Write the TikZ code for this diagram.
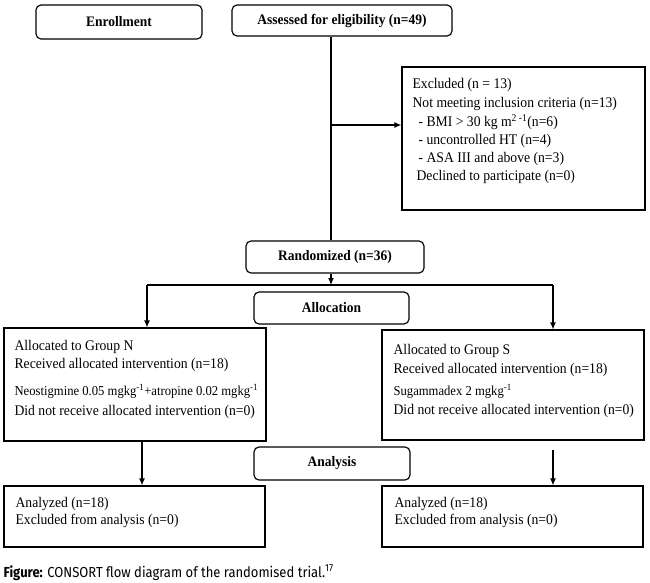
\documentclass[tikz,border=0pt]{standalone}
\usepackage{fontspec}
\usepackage{graphicx}
\setmainfont{Liberation Serif}[FakeStretch=0.93]
\newfontfamily\capfont{Fira Sans}
\usetikzlibrary{arrows.meta}
\begin{document}
\begin{tikzpicture}[x=1pt,y=-1pt,line width=1.15pt,
  hbox/.style={draw,rounded corners=5pt,inner sep=0pt,font=\fontsize{14.5}{16}\selectfont\bfseries},
  sbox/.style={draw,inner sep=0pt},
  txt/.style={anchor=west,inner sep=0pt,font=\fontsize{14.7}{16}\selectfont},
  stxt/.style={anchor=west,inner sep=0pt,font=\fontsize{13.6}{15}\selectfont},
  arr/.style={-{Latex[length=7pt,width=6pt]}}]
\useasboundingbox (0,0) rectangle (650,583);
% header boxes
\node[hbox,minimum width=166pt,minimum height=34pt] (enr) at (119,22) {Enrollment};
\node[hbox,minimum width=220pt,minimum height=31pt] (ass) at (342,20.5) {Assessed for eligibility (n=49)};
\node[hbox,minimum width=178pt,minimum height=32pt] (rand) at (335,257) {Randomized (n=36)};
\node[hbox,minimum width=155pt,minimum height=32pt] (alloc) at (331.5,308) {Allocation};
\node[hbox,minimum width=156pt,minimum height=33pt] (anal) at (332,463.5) {Analysis};
% square boxes
\node[sbox,minimum width=243pt,minimum height=143pt] (exc) at (523.5,138.5) {};
\node[sbox,minimum width=262pt,minimum height=113pt] (gn) at (135,384.5) {};
\node[sbox,minimum width=262pt,minimum height=110pt] (gs) at (513,385) {};
\node[sbox,minimum width=261pt,minimum height=61pt] (an) at (134.5,516.5) {};
\node[sbox,minimum width=261pt,minimum height=61pt] (as) at (512.5,516.5) {};
% texts
\node[txt] (e1) at (412,85) {Excluded (n = 13)};
\node[txt] (e2) at (412,103.5) {Not meeting inclusion criteria (n=13)};
\node[txt] (e3) at (418,122) {- BMI > 30 kg m\textsuperscript{2 -1}(n=6)};
\node[txt] (e4) at (418,140.5) {- uncontrolled HT (n=4)};
\node[txt] (e5) at (418,159) {- ASA III and above (n=3)};
\node[txt] (e6) at (416,177) {Declined to participate (n=0)};
\node[txt] (n1) at (14,347) {Allocated to Group N};
\node[txt] (n2) at (14,365) {Received allocated intervention (n=18)};
\node[stxt] (n3) at (14,391) {Neostigmine 0.05 mgkg\textsuperscript{-1}+atropine 0.02 mgkg\textsuperscript{-1}};
\node[txt] (n4) at (14,412) {Did not receive allocated intervention (n=0)};
\node[txt] (s1) at (393,351) {Allocated to Group S};
\node[txt] (s2) at (393,370) {Received allocated intervention (n=18)};
\node[stxt] (s3) at (393,391) {Sugammadex 2 mgkg\textsuperscript{-1}};
\node[txt] (s4) at (393,411) {Did not receive allocated intervention (n=0)};
\node[txt] (a1) at (15,504) {Analyzed (n=18)};
\node[txt] (a2) at (15,521) {Excluded from analysis (n=0)};
\node[txt] (b1) at (394,504) {Analyzed (n=18)};
\node[txt] (b2) at (394,521) {Excluded from analysis (n=0)};
% caption
\node[anchor=base west,inner sep=0pt,font=\capfont\fontsize{14.5}{16}\selectfont] (cap) at (3,577)
  {\resizebox{330pt}{\height}{\textbf{Figure:} CONSORT flow diagram of the randomised trial.\textsuperscript{17}}};
% connectors
\coordinate (j1) at (331,125);
\coordinate (split) at (331,285);
\coordinate (sl) at (147,285);
\coordinate (sr) at (553,285);
\coordinate (bl) at (142,450);
\coordinate (br) at (553,450);
\draw (j1 |- ass.south) -- (j1 |- rand.north);
\draw[arr] (j1) -- (exc.west |- j1);
\draw[arr] (j1 |- rand.south) -- (split);
\draw (sl) -- (sr);
\draw[arr] (sl) -- (sl |- gn.north);
\draw[arr] (sr) -- (sr |- gs.north);
\draw[arr] (bl |- gn.south) -- (bl |- an.north);
\draw[arr] (br) -- (br |- as.north);
\end{tikzpicture}
\end{document}
